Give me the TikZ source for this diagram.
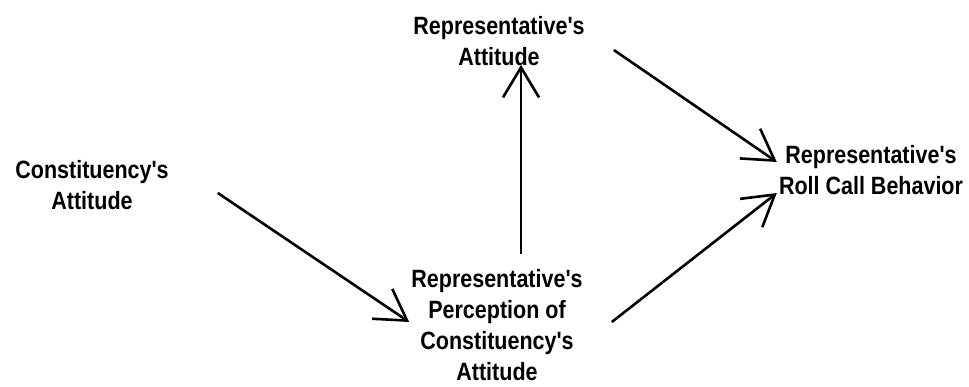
\documentclass[tikz,border=0pt]{standalone}
\usepackage{fontspec}
\setmainfont{Liberation Sans}[FakeStretch=0.86,Ligatures=TeXOff]
\usetikzlibrary{arrows.meta}
\begin{document}
\begin{tikzpicture}[x=1pt,y=1pt,
    lbl/.style={inner sep=0pt,align=center,font=\fontsize{25}{31}\selectfont\bfseries},
    arr/.style={line width=2.6pt,-{Straight Barb[length=30pt,width=36pt,line width=2.6pt]}}]
    \useasboundingbox (0,0) rectangle (969,-387);
    \node[lbl] (const) at (92,-185) {Constituency's\\Attitude};
    \node[lbl] (repatt) at (499,-41) {Representative's\\Attitude};
    \node[lbl] (percep) at (497,-325) {Representative's\\Perception of\\Constituency's\\Attitude};
    \node[lbl] (roll) at (871,-170) {Representative's\\Roll Call Behavior};
    \draw[arr] ([shift={(49,-8)}]const.east) -- ([shift={(-2,3)}]percep.west);
    \draw[arr] ([shift={(24,15)}]percep.north) -- ([shift={(22,1)}]repatt.south);
    \draw[arr] ([shift={(29,-9)}]repatt.east) -- ([shift={(-2,8)}]roll.west);
    \draw[arr] ([shift={(29,3)}]percep.east) -- ([shift={(-2,-23)}]roll.west);
\end{tikzpicture}
\end{document}
